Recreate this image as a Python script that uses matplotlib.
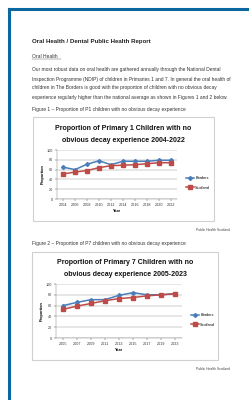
import matplotlib
matplotlib.use('Agg')
import matplotlib.pyplot as plt
from matplotlib.patches import Rectangle
from matplotlib.lines import Line2D

# figure 1 data (P1)
years_p1 = ['2004', '2006', '2008', '2010', '2012', '2014', '2016', '2018', '2020', '2022']
borders_p1 = [65, 60, 71, 78, 70, 77, 77, 77, 79, 79]
scotland_p1 = [51, 55, 58, 64, 68, 69, 70, 72, 74, 74]

# figure 2 data (P7)
years_p7 = ['2005', '2007', '2009', '2011', '2013', '2015', '2017', '2019', '2023']
borders_p7 = [60, 66, 71, 71, 79, 84, 80, 80, 82]
scotland_p7 = [53, 59, 64, 69, 73, 75, 78, 80, 82]

para = ["Our most robust data on oral health are gathered annually through the National Dental",
        "Inspection Programme (NDIP) of children in Primaries 1 and 7. In general the oral health of",
        "children in The Borders is good with the proportion of children with no obvious decay",
        "experience regularly higher than the national average as shown in Figures 1 and 2 below."]

W, H = 249, 400
BLUE = '#4a7ebb'
RED = '#be4b48'
plt.rcParams['font.family'] = ['Liberation Sans', 'DejaVu Sans']

fig = plt.figure(figsize=(W / 100, H / 100), dpi=100)
fig.patch.set_facecolor('white')

def fy(y):
    return 1 - y / H

def fx(x):
    return x / W

# blue page frame
fig.add_artist(Line2D([fx(9), 1], [fy(9), fy(9)], color='#0b679f', lw=2.2))
fig.add_artist(Line2D([fx(9), fx(9)], [fy(9), 0], color='#0b679f', lw=2.2))

fig.text(fx(32), fy(41), 'Oral Health / Dental Public Health Report', fontsize=4.4,
         fontweight='bold', va='center', color='#222222')
fig.text(fx(32), fy(56), 'Oral Health', fontsize=3.6, va='center', color='#333333')
fig.add_artist(Line2D([fx(32), fx(61)], [fy(58.5), fy(58.5)], color='#555555', lw=0.3))
for i, line in enumerate(para):
    fig.text(fx(32), fy(70 + 9 * i), line, fontsize=3.55, va='center', color='#333333')
fig.text(fx(32), fy(109), 'Figure 1 \u2013 Proportion of P1 children with no obvious decay experience',
         fontsize=3.55, va='center', color='#333333')
fig.text(fx(32), fy(243), 'Figure 2 \u2013 Proportion of P7 children with no obvious decay experience',
         fontsize=3.55, va='center', color='#333333')
fig.text(fx(196), fy(230), 'Public Health Scotland', fontsize=2.4, va='center', color='#444444')
fig.text(fx(196), fy(369), 'Public Health Scotland', fontsize=2.4, va='center', color='#444444')


def chart(box, plot, title, cats, bord, scot, leg_y):
    x0, y0, x1, y1 = box
    fig.add_artist(Rectangle((fx(x0), fy(y1)), fx(x1 - x0), (y1 - y0) / H,
                             fill=False, ec='#d0d0d0', lw=0.8))
    fig.text(fx((x0 + x1) / 2), fy(y0 + 11), title[0], fontsize=5.0, fontweight='bold',
             ha='center', va='center', color='#111111')
    fig.text(fx((x0 + x1) / 2), fy(y0 + 23), title[1], fontsize=5.0, fontweight='bold',
             ha='center', va='center', color='#111111')
    px0, py0, px1, py1 = plot
    ax = fig.add_axes([fx(px0), fy(py1), fx(px1 - px0), (py1 - py0) / H])
    pos = list(range(len(cats)))
    ax.plot(pos, bord, color=BLUE, marker='D', ms=2.0, lw=1.1, label='Borders')
    ax.plot(pos, scot, color=RED, marker='s', ms=2.3, lw=1.1, label='Scotland')
    ax.set_xlim(-0.5, len(cats) - 0.5)
    ax.set_ylim(0, 100)
    ax.set_yticks(range(0, 101, 20))
    ax.set_xticks(pos)
    ax.set_xticklabels(cats)
    ax.tick_params(labelsize=2.7, length=1.2, width=0.3, pad=1.5, colors='#333333')
    ax.yaxis.grid(True, color='#9a9a9a', lw=0.35)
    ax.set_axisbelow(True)
    for s in ['top', 'right']:
        ax.spines[s].set_visible(False)
    for s in ['left', 'bottom']:
        ax.spines[s].set_color('#8a8a8a')
        ax.spines[s].set_linewidth(0.35)
    ax.set_xlabel('Year', fontsize=2.8, fontweight='bold', labelpad=1.5)
    ax.set_ylabel('Proportion', fontsize=2.8, fontweight='bold', labelpad=1.5)
    ax.legend(loc='center left', bbox_to_anchor=(fx(px1 + 5), fy(leg_y)),
              bbox_transform=fig.transFigure, frameon=False, fontsize=2.8,
              handlelength=2.2, labelspacing=1.4, handletextpad=0.3)
    return ax


chart((33, 117, 214, 221), (57, 150, 177, 199),
      ('Proportion of Primary 1 Children with no', 'obvious decay experience 2004-2022'),
      years_p1, borders_p1, scotland_p1, 183)
chart((32, 252, 218, 360), (56, 284, 182, 338),
      ('Proportion of Primary 7 Children with no', 'obvious decay experience 2005-2023'),
      years_p7, borders_p7, scotland_p7, 320)

fig.savefig('out.png', dpi=100)
